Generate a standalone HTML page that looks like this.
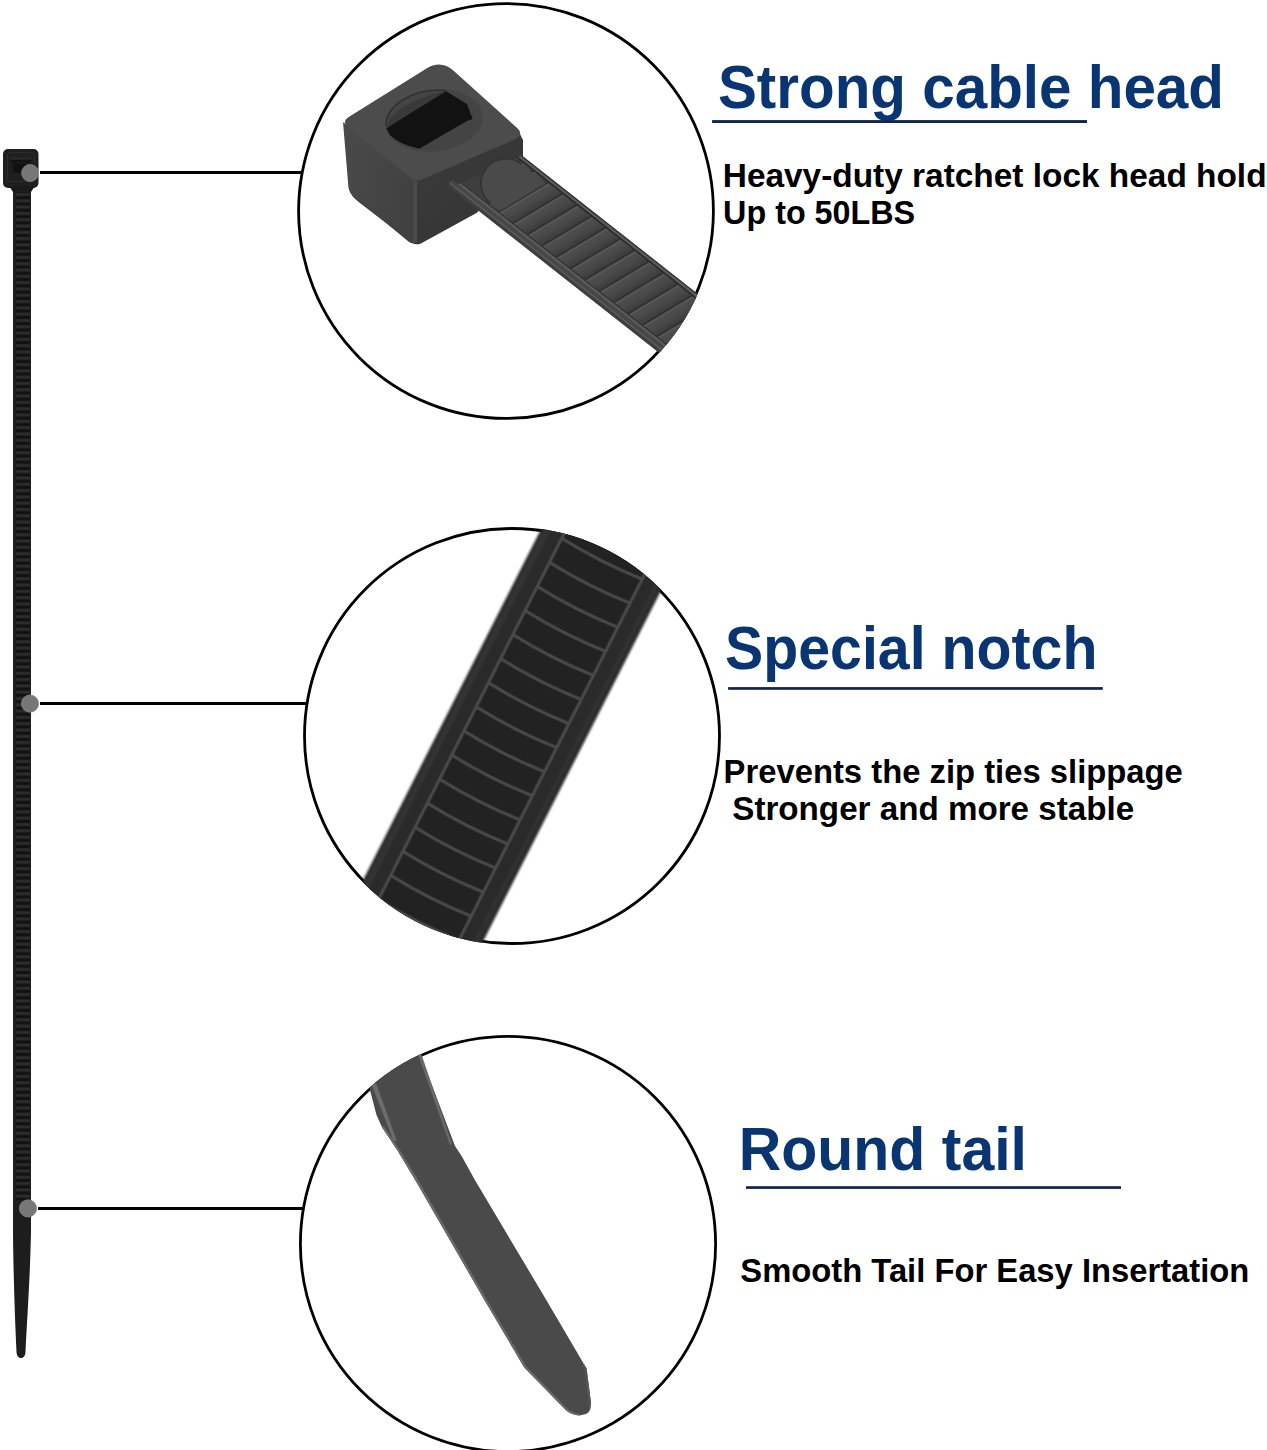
<!DOCTYPE html>
<html>
<head>
<meta charset="utf-8">
<style>
html,body{margin:0;padding:0;background:#fff;}
body{width:1267px;height:1450px;overflow:hidden;position:relative;font-family:"Liberation Sans",sans-serif;}
svg{position:absolute;left:0;top:0;}
.h{font-family:"Liberation Sans",sans-serif;font-weight:bold;fill:#093673;}
.b{font-family:"Liberation Sans",sans-serif;font-weight:bold;fill:#000;}
</style>
</head>
<body>
<svg width="1267" height="1450" viewBox="0 0 1267 1450">
<defs>
  <clipPath id="c1"><circle cx="506" cy="211" r="208.8"/></clipPath>
  <clipPath id="c2"><circle cx="512" cy="736" r="208.9"/></clipPath>
  <clipPath id="c3"><circle cx="508" cy="1244" r="209"/></clipPath>
</defs>

<!-- circles -->
<g fill="none" stroke="#000" stroke-width="2.8">
  <circle cx="506" cy="211" r="207.4"/>
  <circle cx="512" cy="736" r="207.5"/>
  <circle cx="508" cy="1244" r="207.6"/>
</g>

<!-- left zip tie -->
<defs>
  <pattern id="rid" x="0" y="190" width="20" height="6.3" patternUnits="userSpaceOnUse">
    <rect x="0" y="0" width="20" height="6.3" fill="#1d1d1d"/>
    <rect x="0" y="0.3" width="20" height="2.2" fill="#101010"/>
    <rect x="0" y="3.3" width="20" height="2.3" fill="#2d2d2d"/>
  </pattern>
</defs>
<g>
  <path d="M13 186 L31 186 L31 1232 C30 1280 27 1320 25.5 1352 C25 1360 17 1360 16.5 1352 C15 1320 13.5 1280 13 1232 Z" fill="#1d1d1d"/>
  <rect x="16" y="192" width="14" height="1008" fill="url(#rid)"/>
  <rect x="3" y="149" width="35.5" height="39" rx="5" ry="5" fill="#1f1f1f"/>
  <rect x="7.5" y="152.5" width="27" height="29" rx="2.5" fill="none" stroke="#2c2c2c" stroke-width="1"/>
  <rect x="11" y="157" width="20" height="3" fill="#262626"/>
  <rect x="11" y="160" width="20" height="2.5" fill="#111"/>
  <rect x="11" y="162.5" width="19" height="12" fill="#1a1a1a"/>
  <rect x="14" y="163.5" width="12" height="9" fill="#101010"/>
  <path d="M9 186 L35 186 L31 192 L13 192 Z" fill="#1a1a1a"/>
</g>
<g fill="#777777" stroke="#858585" stroke-width="0.8">
  <circle cx="30.1" cy="173" r="8.5"/>
  <circle cx="30" cy="703.6" r="8.6"/>
  <circle cx="28" cy="1208.4" r="8.6"/>
</g>

<!-- C1 : cable head -->
<defs>
  <linearGradient id="lf" x1="0" y1="0" x2="1" y2="0.3">
    <stop offset="0" stop-color="#4a4a4a"/>
    <stop offset="1" stop-color="#414141"/>
  </linearGradient>
  <linearGradient id="slatg" x1="0" y1="0" x2="1" y2="0">
    <stop offset="0" stop-color="#505050"/>
    <stop offset="0.6" stop-color="#484848"/>
    <stop offset="1" stop-color="#3c3c3c"/>
  </linearGradient>
  <pattern id="slat" patternUnits="userSpaceOnUse" width="18.3" height="80" patternTransform="translate(1.68,0) skewX(-20.9)">
    <rect x="0" y="0" width="18.3" height="80" fill="url(#slatg)"/>
    <rect x="0" y="0" width="1.8" height="80" fill="#2c2c2c"/>
    <rect x="1.8" y="0" width="1.8" height="80" fill="#595959"/>
  </pattern>
  <linearGradient id="rf" x1="0" y1="0" x2="1" y2="1">
    <stop offset="0" stop-color="#404040"/>
    <stop offset="1" stop-color="#333333"/>
  </linearGradient>
</defs>
<g clip-path="url(#c1)">
  <!-- cube base / right face -->
  <path d="M346 124 L430 72 L518 130 L523 140 L523 168 L476.5 213.1 L420.9 243.4 Q416 245.5 412 243 L360 203 Q350 196 349 188 Z" fill="url(#rf)"/>
  <!-- strap -->
  <g transform="translate(521.8,155.5) rotate(38.2)">
    <path d="M0 0 L400 0 L400 70 L-36 70 Z" fill="#4a4a4a"/>
    <path d="M0 0 L400 0 L400 1.3 L-0.5 1.3 Z" fill="#333333"/>
    <path d="M-0.5 1.3 L400 1.3 L400 3.6 L-2 3.6 Z" fill="#5a5a5a"/>
    <path d="M-2 3.6 L400 3.6 L400 5.2 L-3 5.2 Z" fill="#282828"/>
    <path d="M-3 5.2 L400 5.2 L400 58.5 L-30 58.5 Z" fill="#3e3e3e"/>
    <path d="M5 5.2 L400 5.2 L400 58.5 L5 58.5 Z" fill="url(#slat)"/>
    <path d="M36 7 L5 7 A25 25 0 0 0 5 57 L17 57 Z" fill="#4a4a4a"/>
    <path d="M5 7 A25 25 0 0 0 5 57" fill="none" stroke="#333333" stroke-width="1.6"/>
    <path d="M-30 58.5 L400 58.5 L400 59.6 L-31 59.6 Z" fill="#2e2e2e"/>
    <path d="M-31 59.6 L400 59.6 L400 62 L-32 62 Z" fill="#5a5a5a"/>
    <rect x="-40" y="62" width="440" height="3.5" fill="#474747"/>
    <rect x="-40" y="65.5" width="440" height="1.6" fill="#5c5c5c"/>
    <rect x="-40" y="67.1" width="440" height="3" fill="#3e3e3e"/>
  </g>
  <!-- left face -->
  <path d="M343 122 L416 181 L416 239 Q415 245.5 409 242 L362 203 Q350 196 348.5 188 Z" fill="url(#lf)"/>
  <path d="M413.5 181 L417 181 L417 242 L413.5 243 Z" fill="#4c4c4c"/>
  <!-- top face -->
  <path d="M349.5 116.5 L426.1 68.8 Q441.0 59.5 453.6 70.8 L516.6 127.5 Q525.0 135.0 514.0 139.7 L422.1 179.2 Q415.5 182.0 411.1 178.4 L347.4 126.3 Q341.5 121.5 349.5 116.5 Z" fill="#4c4c4c"/>
  <ellipse cx="434" cy="120.5" rx="49" ry="31" transform="rotate(-6 434 120.5)" fill="#444444"/>
  <path d="M386 126 A49 31 -6 0 1 446 90.5" fill="none" stroke="#2e2e2e" stroke-width="1.3"/>
  <path d="M386.4 128.2 L390 118 Q410 98 445.9 91.3 Z" fill="#393939"/>
  <path d="M386.4 128.2 L445.9 91.3 L467 104 L472.6 119 L467 121 L419.2 148.7 Q400 145 390 135 Z" fill="#121212"/>
  </g>

<!-- C2 : special notch -->
<defs>
  <filter id="soft" x="-10%" y="-10%" width="120%" height="120%"><feGaussianBlur stdDeviation="1"/></filter>
  <filter id="soft2" x="-5%" y="-5%" width="110%" height="110%"><feGaussianBlur stdDeviation="0.6"/></filter>
</defs>
<g clip-path="url(#c2)">
  <g transform="translate(575.95,610) rotate(26.9)">
    <g filter="url(#soft)">
      <rect x="-67.75" y="-300" width="134.9" height="650" fill="#2b2b2b"/>
      <rect x="-63.5" y="-300" width="4" height="650" fill="#363636"/>
      <rect x="59" y="-300" width="4" height="650" fill="#333333"/>
    </g>
    <g filter="url(#soft2)">
    <rect x="-45" y="-300" width="90" height="650" fill="#242424"/>
    <g fill="none" stroke="#484848" stroke-width="3"><path d="M-45 -327.5 Q0 -323.5 45 -327.5"/><path d="M-45 -300.5 Q0 -296.5 45 -300.5"/><path d="M-45 -273.5 Q0 -269.5 45 -273.5"/><path d="M-45 -246.5 Q0 -242.5 45 -246.5"/><path d="M-45 -219.5 Q0 -215.5 45 -219.5"/><path d="M-45 -192.5 Q0 -188.5 45 -192.5"/><path d="M-45 -165.5 Q0 -161.5 45 -165.5"/><path d="M-45 -138.5 Q0 -134.5 45 -138.5"/><path d="M-45 -111.5 Q0 -107.5 45 -111.5"/><path d="M-45 -84.5 Q0 -80.5 45 -84.5"/><path d="M-45 -57.5 Q0 -53.5 45 -57.5"/><path d="M-45 -30.5 Q0 -26.5 45 -30.5"/><path d="M-45 -3.5 Q0 0.5 45 -3.5"/><path d="M-45 23.5 Q0 27.5 45 23.5"/><path d="M-45 50.5 Q0 54.5 45 50.5"/><path d="M-45 77.5 Q0 81.5 45 77.5"/><path d="M-45 104.5 Q0 108.5 45 104.5"/><path d="M-45 131.5 Q0 135.5 45 131.5"/><path d="M-45 158.5 Q0 162.5 45 158.5"/><path d="M-45 185.5 Q0 189.5 45 185.5"/><path d="M-45 212.5 Q0 216.5 45 212.5"/><path d="M-45 239.5 Q0 243.5 45 239.5"/><path d="M-45 266.5 Q0 270.5 45 266.5"/><path d="M-45 293.5 Q0 297.5 45 293.5"/><path d="M-45 320.5 Q0 324.5 45 320.5"/><path d="M-45 347.5 Q0 351.5 45 347.5"/><path d="M-45 374.5 Q0 378.5 45 374.5"/></g>
    <rect x="-46.65" y="-300" width="3" height="650" fill="#4a4a4a"/>
    <rect x="43.65" y="-300" width="3" height="650" fill="#4a4a4a"/>
    </g>
  </g>
</g>

<!-- C3 : round tail -->
<g clip-path="url(#c3)">
  <path d="M350 1060 L369.3 1087.5 L376.5 1115.1 L382 1127.3 L397.5 1150.5 L415.2 1180 L484.4 1300 L524.2 1367.4 L566.2 1410.5 Q572 1415 579.4 1415.5 L586 1414 Q590.5 1412 590.8 1406 L591 1402.8 L586.6 1368.5 L583.9 1364 L546.3 1300 L474.9 1180 L461.6 1156 L455 1146 L420.7 1055.5 L410 1020 Z" fill="#4a4a4a"/>
  <path d="M371 1083 L376 1083 L396.5 1140 L394 1142 Z" fill="#6c6c6c"/>
  <path d="M416.5 1050 L420 1050 L452 1144 L450 1145 Z" fill="#6a6a6a"/>
  <path d="M382 1127.3 L397.5 1150.5 L415.2 1180 L484.4 1300 L524.2 1367.4 L566.2 1410.5 Q572 1415 579.4 1415.5 L579.6 1413.8 Q573 1413 567.5 1409 L526 1366 L486.5 1299 L417.5 1179 L399.5 1149.5 L384 1126.3 Z" fill="#6a6a6a"/>
  <path d="M583.9 1364 L586.6 1368.5 L591 1402.8 L590.8 1406 L588.8 1406 L588.6 1403 L584.4 1369.5 L582.2 1366 Z" fill="#565656"/>
</g>

<!-- connector lines -->
<g fill="#000">
  <rect x="40" y="171" width="262" height="3"/>
  <rect x="40" y="702" width="266" height="3"/>
  <rect x="38" y="1207" width="264" height="3"/>
</g>

<!-- headings -->
<text id="h1" class="h" x="717.89" y="108.2" font-size="60.5" textLength="506.14" lengthAdjust="spacingAndGlyphs">Strong cable head</text>
<rect x="712.1" y="120.1" width="374.9" height="2.9" fill="#0f2550"/>
<text id="b1" class="b" x="722.77" y="186.7" font-size="33.5" textLength="543.80" lengthAdjust="spacingAndGlyphs">Heavy-duty ratchet lock head hold</text>
<text id="b2" class="b" x="723.10" y="223.7" font-size="33.5" textLength="192.08" lengthAdjust="spacingAndGlyphs">Up to 50LBS</text>

<text id="h2" class="h" x="725.10" y="668.7" font-size="60.5" textLength="372.29" lengthAdjust="spacingAndGlyphs">Special notch</text>
<rect x="728.1" y="687.1" width="374.7" height="2.7" fill="#0f2550"/>
<text id="b3" class="b" x="723.57" y="782.6" font-size="33.5" textLength="459.26" lengthAdjust="spacingAndGlyphs">Prevents the zip ties slippage</text>
<text id="b4" class="b" x="732.27" y="819.5" font-size="33.5" textLength="401.83" lengthAdjust="spacingAndGlyphs">Stronger and more stable</text>

<text id="h3" class="h" x="738.66" y="1170.0" font-size="60.5" textLength="288.36" lengthAdjust="spacingAndGlyphs">Round tail</text>
<rect x="746" y="1186.2" width="375" height="2.7" fill="#0f2550"/>
<text id="b5" class="b" x="740.29" y="1281.5" font-size="33.5" textLength="509.08" lengthAdjust="spacingAndGlyphs">Smooth Tail For Easy Insertation</text>

</svg>
</body>
</html>
